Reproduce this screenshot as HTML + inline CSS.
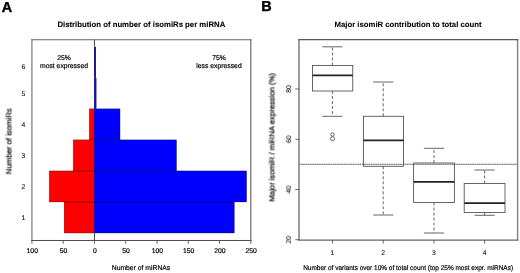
<!DOCTYPE html>
<html><head><meta charset="utf-8">
<style>
html,body{margin:0;padding:0;background:#fff;}
svg{display:block;font-family:"Liberation Sans",sans-serif;text-rendering:geometricPrecision;}
text{will-change:transform;stroke:#000;stroke-width:0.18px;}
text.b{stroke-width:0.08px;}
text.n{stroke-width:0.05px;}
</style></head>
<body>
<svg width="520" height="273" viewBox="0 0 520 273">
<rect width="520" height="273" fill="#fff"/>
<text x="1.75" y="12.1" font-size="14.4" font-weight="bold" fill="#000" style="stroke-width:0.4px">A</text>
<text x="261.15" y="11.2" font-size="14.4" font-weight="bold" fill="#000" style="stroke-width:0.4px">B</text>

<text x="141.35" y="26.8" font-size="7.77" class="b" font-weight="bold" text-anchor="middle" fill="#000">Distribution of number of isomiRs per miRNA</text>
<rect x="64.17" y="201.97" width="30.27" height="31.03" fill="#ff0000" stroke="#000" stroke-width="0.3"/>
<rect x="94.44" y="201.97" width="139.85" height="31.03" fill="#0000ff" stroke="#000" stroke-width="0.3"/>
<rect x="49.29" y="170.94" width="45.16" height="31.03" fill="#ff0000" stroke="#000" stroke-width="0.3"/>
<rect x="94.44" y="170.94" width="152.17" height="31.03" fill="#0000ff" stroke="#000" stroke-width="0.3"/>
<rect x="73.30" y="139.91" width="21.14" height="31.03" fill="#ff0000" stroke="#000" stroke-width="0.3"/>
<rect x="94.44" y="139.91" width="82.06" height="31.03" fill="#0000ff" stroke="#000" stroke-width="0.3"/>
<rect x="89.31" y="108.88" width="5.13" height="31.03" fill="#ff0000" stroke="#000" stroke-width="0.3"/>
<rect x="94.44" y="108.88" width="25.58" height="31.03" fill="#0000ff" stroke="#000" stroke-width="0.3"/>
<rect x="94.05" y="77.85" width="2.4" height="31.03" fill="#1414a8"/>
<rect x="94.05" y="46.82" width="1.9" height="31.03" fill="#12128c"/>
<line x1="94.44" y1="39.75" x2="94.44" y2="46.82" stroke="#333" stroke-width="0.9"/>
<line x1="94.44" y1="233.00" x2="94.44" y2="240.47" stroke="#333" stroke-width="0.9"/>
<line x1="94.44" y1="108.88" x2="94.44" y2="233.00" stroke="#100060" stroke-opacity="0.55" stroke-width="0.8"/>
<line x1="31.9" y1="39.25" x2="31.9" y2="240.97" stroke="#858585" stroke-width="1.3"/>
<line x1="250.8" y1="39.25" x2="250.8" y2="240.97" stroke="#6a6a6a" stroke-width="1.2"/>
<line x1="31.299999999999997" y1="39.75" x2="251.4" y2="39.75" stroke="#666" stroke-width="1"/>
<line x1="31.299999999999997" y1="240.47" x2="251.4" y2="240.47" stroke="#484848" stroke-width="1"/>
<g stroke="#555" stroke-width="0.9">
<line x1="31.90" y1="240.47" x2="31.90" y2="243.8"/>
<line x1="63.17" y1="240.47" x2="63.17" y2="243.8"/>
<line x1="94.44" y1="240.47" x2="94.44" y2="243.8"/>
<line x1="125.71" y1="240.47" x2="125.71" y2="243.8"/>
<line x1="156.99" y1="240.47" x2="156.99" y2="243.8"/>
<line x1="188.26" y1="240.47" x2="188.26" y2="243.8"/>
<line x1="219.53" y1="240.47" x2="219.53" y2="243.8"/>
<line x1="250.80" y1="240.47" x2="250.80" y2="243.8"/>
</g>
<g font-size="6.8" text-anchor="middle" fill="#000">
<text x="32.25" y="252.7">100</text>
<text x="63.52" y="252.7">50</text>
<text x="94.79" y="252.7">0</text>
<text x="126.06" y="252.7">50</text>
<text x="157.34" y="252.7">100</text>
<text x="188.61" y="252.7">150</text>
<text x="219.88" y="252.7">200</text>
<text x="251.15" y="252.7">250</text>
<text class="n" x="23.5" y="219.94">1</text>
<text class="n" x="23.5" y="188.90">2</text>
<text class="n" x="23.5" y="157.88">3</text>
<text class="n" x="23.5" y="126.84">4</text>
<text class="n" x="23.5" y="95.81">5</text>
<text class="n" x="23.5" y="69.25">6</text>
<text x="64" y="60.4">25%</text>
<text x="64" y="67.5">most expressed</text>
<text x="219" y="60.4">75%</text>
<text x="219" y="67.5">less expressed</text>
</g>
<text x="141" y="270.1" font-size="6.8" text-anchor="middle" fill="#000">Number of miRNAs</text>
<text transform="translate(11.5,141.3) rotate(-90)" font-size="7.75" text-anchor="middle" fill="#000">Number of isomiRs</text>
<text x="408.05" y="26.8" font-size="7.74" class="b" font-weight="bold" text-anchor="middle" fill="#000">Major isomiR contribution to total count</text>
<line x1="299.0" y1="39.1" x2="299.0" y2="240.6" stroke="#858585" stroke-width="1.6"/>
<line x1="517.6" y1="39.1" x2="517.6" y2="240.6" stroke="#858585" stroke-width="1.5"/>
<line x1="298.3" y1="39.6" x2="518.3000000000001" y2="39.6" stroke="#5a5a5a" stroke-width="1.1"/>
<line x1="298.3" y1="240.1" x2="518.3000000000001" y2="240.1" stroke="#666" stroke-width="1.2"/>
<line x1="299.0" y1="164.3" x2="517.6" y2="164.3" stroke="#a8a8a8" stroke-width="0.9"/>
<line x1="299.0" y1="164.3" x2="517.6" y2="164.3" stroke="#555" stroke-width="0.9" stroke-dasharray="0.8,1"/>
<g fill="none" stroke="#555" stroke-width="0.9">
<rect x="312.5" y="65.5" width="40.25" height="25.50"/>
<line x1="332.4" y1="65.5" x2="332.4" y2="46.8" stroke-dasharray="3,2"/>
<line x1="332.4" y1="91.0" x2="332.4" y2="116.3" stroke-dasharray="3,2"/>
<line x1="322.29999999999995" y1="46.8" x2="342.5" y2="46.8"/>
<line x1="322.29999999999995" y1="116.3" x2="342.5" y2="116.3"/>
<rect x="363.4" y="116.3" width="40.10" height="50.00"/>
<line x1="383.2" y1="116.3" x2="383.2" y2="82.0" stroke-dasharray="3,2"/>
<line x1="383.2" y1="166.3" x2="383.2" y2="215.0" stroke-dasharray="3,2"/>
<line x1="373.09999999999997" y1="82.0" x2="393.3" y2="82.0"/>
<line x1="373.09999999999997" y1="215.0" x2="393.3" y2="215.0"/>
<rect x="413.6" y="163.0" width="40.80" height="39.50"/>
<line x1="434.0" y1="163.0" x2="434.0" y2="148.3" stroke-dasharray="3,2"/>
<line x1="434.0" y1="202.5" x2="434.0" y2="233.0" stroke-dasharray="3,2"/>
<line x1="423.9" y1="148.3" x2="444.1" y2="148.3"/>
<line x1="423.9" y1="233.0" x2="444.1" y2="233.0"/>
<rect x="464.2" y="183.5" width="40.80" height="29.00"/>
<line x1="484.6" y1="183.5" x2="484.6" y2="170.0" stroke-dasharray="3,2"/>
<line x1="484.6" y1="212.5" x2="484.6" y2="215.3" stroke-dasharray="3,2"/>
<line x1="474.5" y1="170.0" x2="494.70000000000005" y2="170.0"/>
<line x1="474.5" y1="215.3" x2="494.70000000000005" y2="215.3"/>
<circle cx="332.45" cy="134.5" r="1.75" stroke="#444" stroke-width="0.8"/>
<circle cx="332.55" cy="138.7" r="2.0" stroke="#444" stroke-width="0.8"/>
</g>
<g stroke="#222" stroke-width="1.7">
<line x1="312.5" y1="75.3" x2="352.75" y2="75.3"/>
<line x1="363.4" y1="140.4" x2="403.5" y2="140.4"/>
<line x1="413.6" y1="181.8" x2="454.4" y2="181.8"/>
<line x1="464.2" y1="203.2" x2="505.0" y2="203.2"/>
</g>
<g stroke="#444" stroke-width="0.8">
<line x1="332.4" y1="240.1" x2="332.4" y2="243.6"/>
<line x1="383.2" y1="240.1" x2="383.2" y2="243.6"/>
<line x1="434.0" y1="240.1" x2="434.0" y2="243.6"/>
<line x1="484.6" y1="240.1" x2="484.6" y2="243.6"/>
<line x1="295.3" y1="89.0" x2="299.0" y2="89.0"/>
<line x1="295.3" y1="139.3" x2="299.0" y2="139.3"/>
<line x1="295.3" y1="189.5" x2="299.0" y2="189.5"/>
<line x1="295.3" y1="239.7" x2="299.0" y2="239.7"/>
</g>
<g font-size="6.8" text-anchor="middle" fill="#000">
<text class="n" x="332.4" y="255.0">1</text>
<text class="n" x="383.2" y="255.0">2</text>
<text class="n" x="434.0" y="255.0">3</text>
<text class="n" x="484.6" y="255.0">4</text>
<text class="n" transform="translate(290.9,89.0) rotate(-90)">80</text>
<text class="n" transform="translate(290.9,139.3) rotate(-90)">60</text>
<text class="n" transform="translate(290.9,189.5) rotate(-90)">40</text>
<text class="n" transform="translate(290.9,239.7) rotate(-90)">20</text>
</g>
<text transform="translate(408.1,269.9) scale(0.953,1)" font-size="6.8" text-anchor="middle" fill="#000">Number of variants over 10% of total count (top 25% most expr. miRNAs)</text>
<text transform="translate(274.5,137.4) rotate(-90)" font-size="7.69" text-anchor="middle" fill="#000">Major isomiR / miRNA expression (%)</text>
</svg>
</body></html>
